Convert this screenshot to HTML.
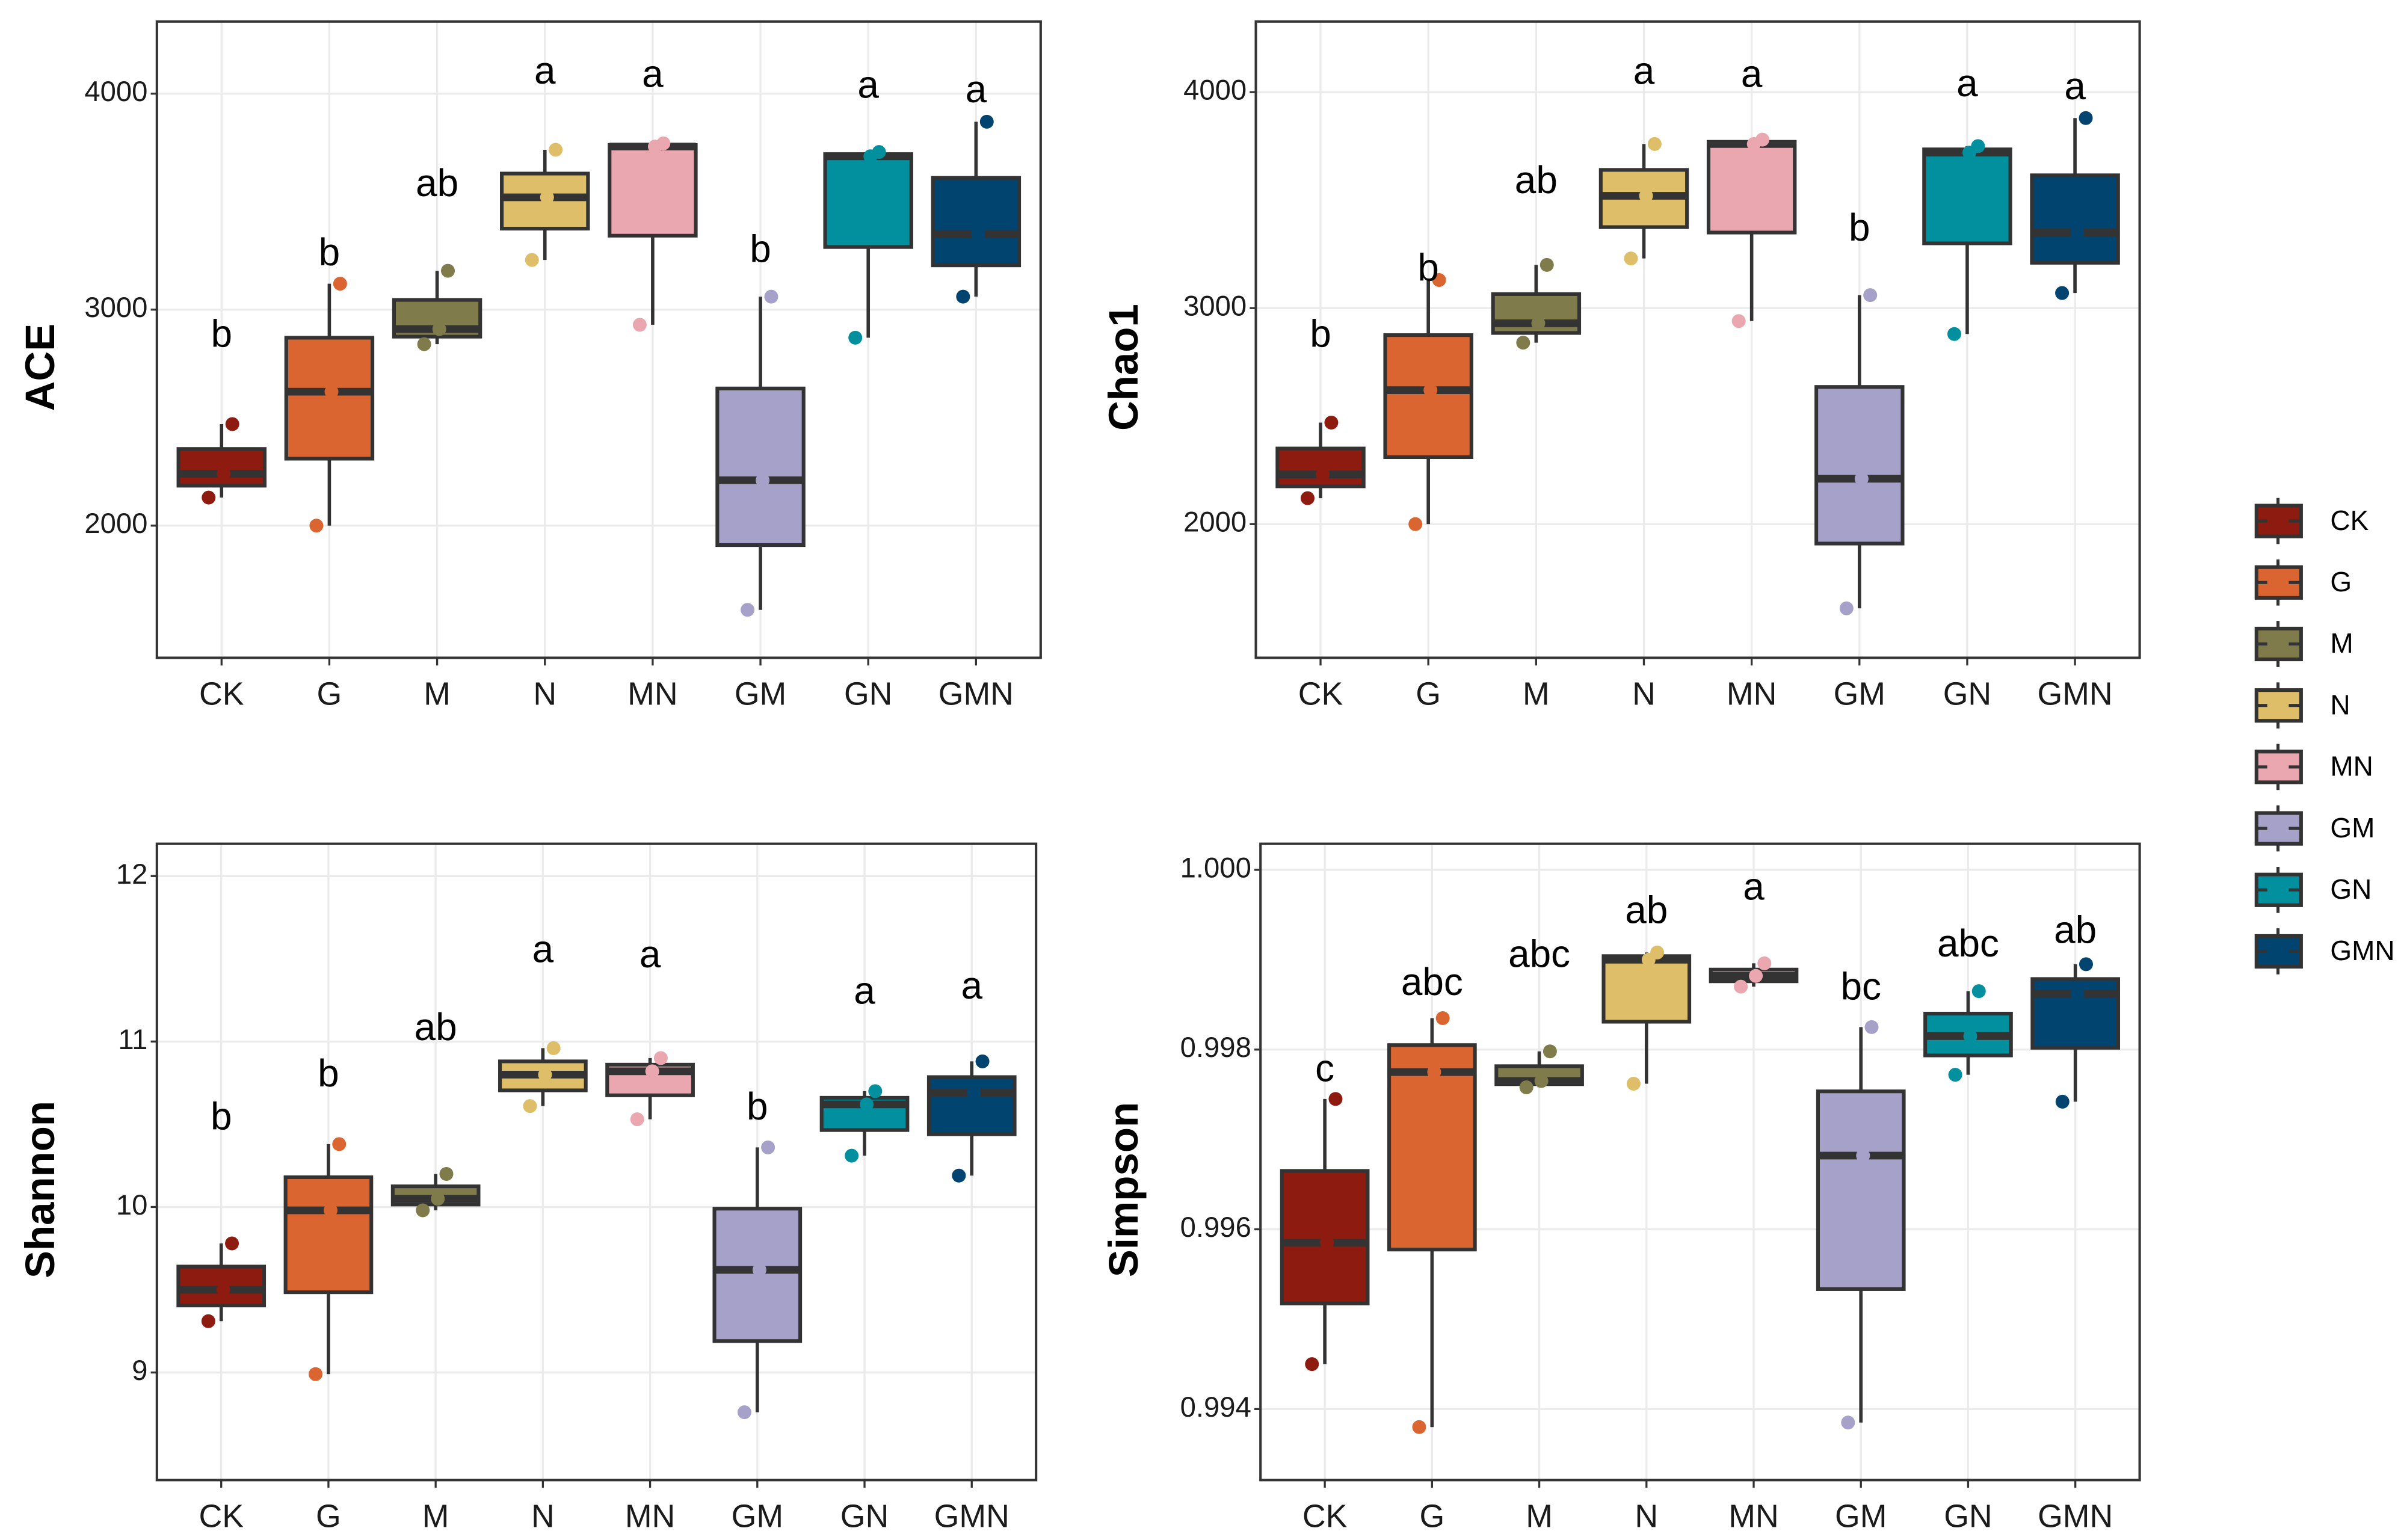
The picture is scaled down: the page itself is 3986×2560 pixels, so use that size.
<!DOCTYPE html>
<html><head><meta charset="utf-8"><style>
html,body{margin:0;padding:0;background:#fff;}
svg{display:block;}
text{font-family:"Liberation Sans",sans-serif;}
</style></head>
<body>
<svg id="chart" width="3986" height="2560" viewBox="0 0 1560 1002" xmlns="http://www.w3.org/2000/svg"></svg>
<script>
const categories = ["CK","G","M","N","MN","GM","GN","GMN"];
const colors = ["#8E1B10","#DA6530","#7F7B4B","#DFBE69","#EBA7AF","#A6A1C9","#02909F","#024470"];
// three sample values per group (min, median, max)
const aceValues = [[2130,2240,2470],[2000,2620,3120],[2840,2910,3180],[3230,3520,3740],[2930,3755,3770],[1610,2210,3060],[2870,3710,3730],[3060,3350,3870]];
const chaoValues = [[2120,2230,2470],[2000,2620,3130],[2840,2930,3200],[3230,3520,3760],[2940,3760,3780],[1610,2210,3060],[2880,3720,3750],[3070,3350,3880]];
const shannonValues = [[9.31,9.5,9.78],[8.99,9.98,10.38],[9.98,10.05,10.2],[10.61,10.8,10.96],[10.53,10.82,10.9],[8.76,9.62,10.36],[10.31,10.62,10.7],[10.19,10.69,10.88]];
const simpsonValues = [[0.9945,0.99585,0.99745],[0.9938,0.99775,0.99835],[0.99758,0.99765,0.99798],[0.99762,0.9990,0.99908],[0.9987,0.99882,0.99896],[0.99385,0.99682,0.99825],[0.99772,0.99815,0.99865],[0.99742,0.99862,0.99895]];
const aceLetters = ["b","b","ab","a","a","b","a","a"];
const aceLetterY = [2875,3253,3573,4093,4078,3267,4028,4007];
const chaoLetters = ["b","b","ab","a","a","b","a","a"];
const chaoLetterY = [2868,3174,3580,4085,4071,3359,4028,4014];
const shannonLetters = ["b","b","ab","a","a","b","a","a"];
const shannonLetterY = [10.53,10.79,11.07,11.54,11.51,10.59,11.29,11.32];
const simpsonLetters = ["c","abc","abc","ab","a","bc","abc","ab"];
const simpsonLetterY = [0.99776,0.99872,0.99903,0.99952,0.99978,0.99867,0.99915,0.9993];
const aceTicks = [2000,3000,4000];
const chaoTicks = [2000,3000,4000];
const shannonTicks = [9,10,11,12];
const simpsonTicks = [0.994,0.996,0.998,1.000];

const NS="http://www.w3.org/2000/svg";
const svg=document.getElementById('chart');
function mk(tag,attrs,parent){const e=document.createElementNS(NS,tag);for(const k in attrs)e.setAttribute(k,attrs[k]);(parent||svg).appendChild(e);return e;}

const panels=[
 {name:"ace",title:"ACE",vals:aceValues,letters:aceLetters,ly:aceLetterY,ticks:aceTicks,fmt:v=>String(v),x0:102,x1:677,y0:14,y1:428,ymin:1388,ymax:4334,tx:28},
 {name:"chao1",title:"Chao1",vals:chaoValues,letters:chaoLetters,ly:chaoLetterY,ticks:chaoTicks,fmt:v=>String(v),x0:817,x1:1392,y0:14,y1:428,ymin:1381,ymax:4327,tx:733},
 {name:"shannon",title:"Shannon",vals:shannonValues,letters:shannonLetters,ly:shannonLetterY,ticks:shannonTicks,fmt:v=>String(v),x0:102,x1:674,y0:549,y1:963,ymin:8.35,ymax:12.195,tx:28},
 {name:"simpson",title:"Simpson",vals:simpsonValues,letters:simpsonLetters,ly:simpsonLetterY,ticks:simpsonTicks,fmt:v=>v.toFixed(3),x0:820,x1:1392,y0:549,y1:963,ymin:0.99321,ymax:1.00029,tx:733}
];
const jit=[-0.12,0.02,0.1];
panels.forEach(p=>{
 const g=mk('g',{});
 
 
 const step=(p.x1-p.x0)/(categories.length-1+1.2);
 const xs=i=>p.x0+step*(0.6+i);
 const ys=v=>p.y1-(v-p.ymin)/(p.ymax-p.ymin)*(p.y1-p.y0);
 p.ticks.forEach(t=>{mk('line',{x1:p.x0,x2:p.x1,y1:ys(t),y2:ys(t),stroke:'#ebebeb','stroke-width':1.3},g);});
 categories.forEach((c,i)=>{mk('line',{x1:xs(i),x2:xs(i),y1:p.y0,y2:p.y1,stroke:'#ebebeb','stroke-width':1.3},g);});
 p.vals.forEach((v,i)=>{
  const s=[...v].sort((a,b)=>a-b);
  const mn=s[0],md=s[1],mx=s[2],q1=(mn+md)/2,q3=(md+mx)/2;
  const cx=xs(i),w=step*0.8;
  const bg=mk('g',{},g);
  
  
  mk('line',{x1:cx,x2:cx,y1:ys(mx),y2:ys(mn),stroke:'#333','stroke-width':2.2},bg);
  mk('rect',{x:cx-w/2,y:ys(q3),width:w,height:ys(q1)-ys(q3),fill:colors[i],stroke:'#333','stroke-width':2.4},bg);
  mk('line',{x1:cx-w/2,x2:cx+w/2,y1:ys(md),y2:ys(md),stroke:'#333','stroke-width':5},bg);
  v.forEach((pt,k)=>{
   const c=mk('circle',{cx:cx+jit[k]*step,cy:ys(pt),r:4.5,fill:colors[i]},bg);
   
   
  });
  const t=mk('text',{x:cx,y:ys(p.ly[i]),'text-anchor':'middle','dominant-baseline':'middle','font-size':25,fill:'#000'},g);
  t.textContent=p.letters[i];
  
  
 });
 mk('rect',{x:p.x0,y:p.y0,width:p.x1-p.x0,height:p.y1-p.y0,fill:'none',stroke:'#333','stroke-width':1.6},g);
 p.ticks.forEach(t=>{
  mk('line',{x1:p.x0-4,x2:p.x0,y1:ys(t),y2:ys(t),stroke:'#333','stroke-width':1.3},g);
  const tl=mk('text',{x:p.x0-6,y:ys(t),'text-anchor':'end','dominant-baseline':'middle','font-size':18.5,fill:'#1a1a1a'},g);
  tl.textContent=p.fmt(t);
  
  
 });
 categories.forEach((c,i)=>{
  mk('line',{x1:xs(i),x2:xs(i),y1:p.y1,y2:p.y1+5,stroke:'#333','stroke-width':1.3},g);
  const tl=mk('text',{x:xs(i),y:p.y1+25,'text-anchor':'middle','dominant-baseline':'middle','font-size':21,fill:'#1a1a1a'},g);
  tl.textContent=c;
  
  
 });
 const cy=(p.y0+p.y1)/2+18;
 const tt=mk('text',{x:p.tx,y:cy,'text-anchor':'middle','dominant-baseline':'middle','font-size':27,'font-weight':'bold',fill:'#000',transform:`rotate(-90 ${p.tx} ${cy})`},g);
 tt.textContent=p.title;
 
 
});
const lg=mk('g',{});


categories.forEach((c,i)=>{
 const y=339+i*40;
 const e=mk('g',{},lg);
 
 
 mk('line',{x1:1482,x2:1482,y1:y-15,y2:y+15,stroke:'#333','stroke-width':2},e);
 mk('rect',{x:1468,y:y-10,width:29,height:20,fill:colors[i],stroke:'#333','stroke-width':2.4},e);
 mk('line',{x1:1469,x2:1475,y1:y,y2:y,stroke:'#333','stroke-width':2},e);
 mk('line',{x1:1489,x2:1496,y1:y,y2:y,stroke:'#333','stroke-width':2},e);
 const t=mk('text',{x:1516,y:y+1,'dominant-baseline':'middle','font-size':18,fill:'#000'},e);
 t.textContent=c;
});
</script>
</body></html>
